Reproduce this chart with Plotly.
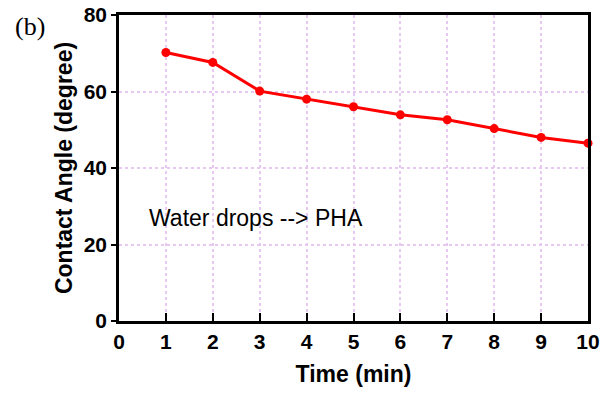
import plotly.graph_objects as go

time_min = [1, 2, 3, 4, 5, 6, 7, 8, 9, 10]
contact_angle = [70.2, 67.6, 60.1, 58.0, 56.0, 53.9, 52.6, 50.3, 48.0, 46.5]
x_ticks = list(range(0, 11))
y_ticks = [0, 20, 40, 60, 80]

fig = go.Figure()
fig.add_trace(go.Scatter(
    x=time_min, y=contact_angle, mode="lines+markers",
    line=dict(color="#ff0000", width=3),
    marker=dict(color="#ff0000", size=9),
    cliponaxis=False, showlegend=False))

grid = dict(showgrid=True, gridcolor="#e6c8f0", griddash="dot", gridwidth=1.5)
fig.update_xaxes(range=[0, 10], tickvals=x_ticks, ticks="inside", ticklen=8, tickwidth=2,
                 tickcolor="black", showline=True, linecolor="black", linewidth=2.5, mirror=True,
                 zeroline=False, automargin=False, ticklabeloverflow="allow",
                 tickfont=dict(family="Arial", size=21, color="black", weight="bold"),
                 title=dict(text="Time (min)", font=dict(family="Arial", size=23, color="black", weight="bold"), standoff=14),
                 **grid)
fig.update_yaxes(range=[0, 80], tickvals=y_ticks, ticks="outside", ticklen=5, tickwidth=2,
                 tickcolor="black", showline=True, linecolor="black", linewidth=2.5, mirror=True,
                 zeroline=False, automargin=False, ticklabeloverflow="allow",
                 tickfont=dict(family="Arial", size=21, color="black", weight="bold"),
                 title=dict(text="Contact Angle (degree)", font=dict(family="Arial", size=23, color="black", weight="bold"), standoff=5),
                 **grid)

fig.add_annotation(x=0.6, y=26.8, xref="x", yref="y", xanchor="left", yanchor="middle",
                   text="Water drops --> PHA", showarrow=False,
                   font=dict(family="Arial", size=23, color="black"))
fig.add_annotation(x=-0.226, y=1.016, xref="paper", yref="paper", xanchor="left", yanchor="top",
                   text="(b)", showarrow=False,
                   font=dict(family="Times New Roman, Liberation Serif", size=26, color="black"))

fig.update_layout(width=613, height=396, margin=dict(l=119, r=25, t=15, b=75),
                  plot_bgcolor="white", paper_bgcolor="white")

fig.write_html("out.html", config={"displayModeBar": False},
               post_script="document.body.style.margin='0';")
